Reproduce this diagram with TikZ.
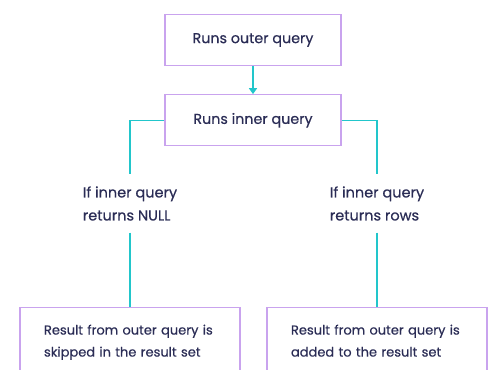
\documentclass[tikz,border=0pt]{standalone}
\usepackage{fontspec}
\setmainfont{Poppins}[FakeBold=0.5]
\usepackage{xcolor}
\usetikzlibrary{arrows.meta, positioning}
\definecolor{boxline}{HTML}{C9A3EE}
\definecolor{flow}{HTML}{22C6CB}
\definecolor{ink}{HTML}{2A2C55}

\begin{document}
\begin{tikzpicture}[
        x=1pt, y=-1pt,
        block/.style={
            rectangle,
            draw=boxline,
            line width=1.3pt,
            minimum width=176pt,
            minimum height=51pt,
            text=ink,
            font=\fontsize{14.3}{17}\selectfont
        },
        result/.style={
            rectangle,
            draw=boxline,
            line width=1.3pt,
            text width=172pt,
            align=left,
            inner xsep=24pt,
            inner ysep=17pt,
            anchor=north,
            text=ink,
            font=\fontsize{13}{22}\selectfont
        },
        cond/.style={
            align=left,
            minimum height=58pt,
            text=ink,
            font=\fontsize{14.5}{23}\selectfont
        },
        line/.style={
            draw=flow,
            line width=1.6pt
        }
    ]
    \useasboundingbox (0,0) rectangle (491,370);
    \clip (0,0) rectangle (491,370);

    % Nodes
    \node[block] (outer) at (253,40) {Runs outer query};
    \node[block, below=28pt of outer] (inner) {Runs inner query};
    \node[cond] (nullcond) at (130,203.5) {If inner query\\returns NULL};
    \node[cond] (rowscond) at (377,203.5) {If inner query\\returns rows};
    \node[result] (skipped) at (130,307) {Result from outer query is\\skipped in the result set};
    \node[result] (added) at (377,307) {Result from outer query is\\added to the result set};

    % Arrows
    \draw[line, -{Triangle[width=8pt, length=6pt]}] (outer) -- (inner);
    \draw[line] (inner.west) -| (nullcond.north);
    \draw[line] (inner.east) -| (rowscond.north);
    \draw[line] (nullcond.south) -- (skipped.north);
    \draw[line] (rowscond.south) -- (added.north);
\end{tikzpicture}
\end{document}
